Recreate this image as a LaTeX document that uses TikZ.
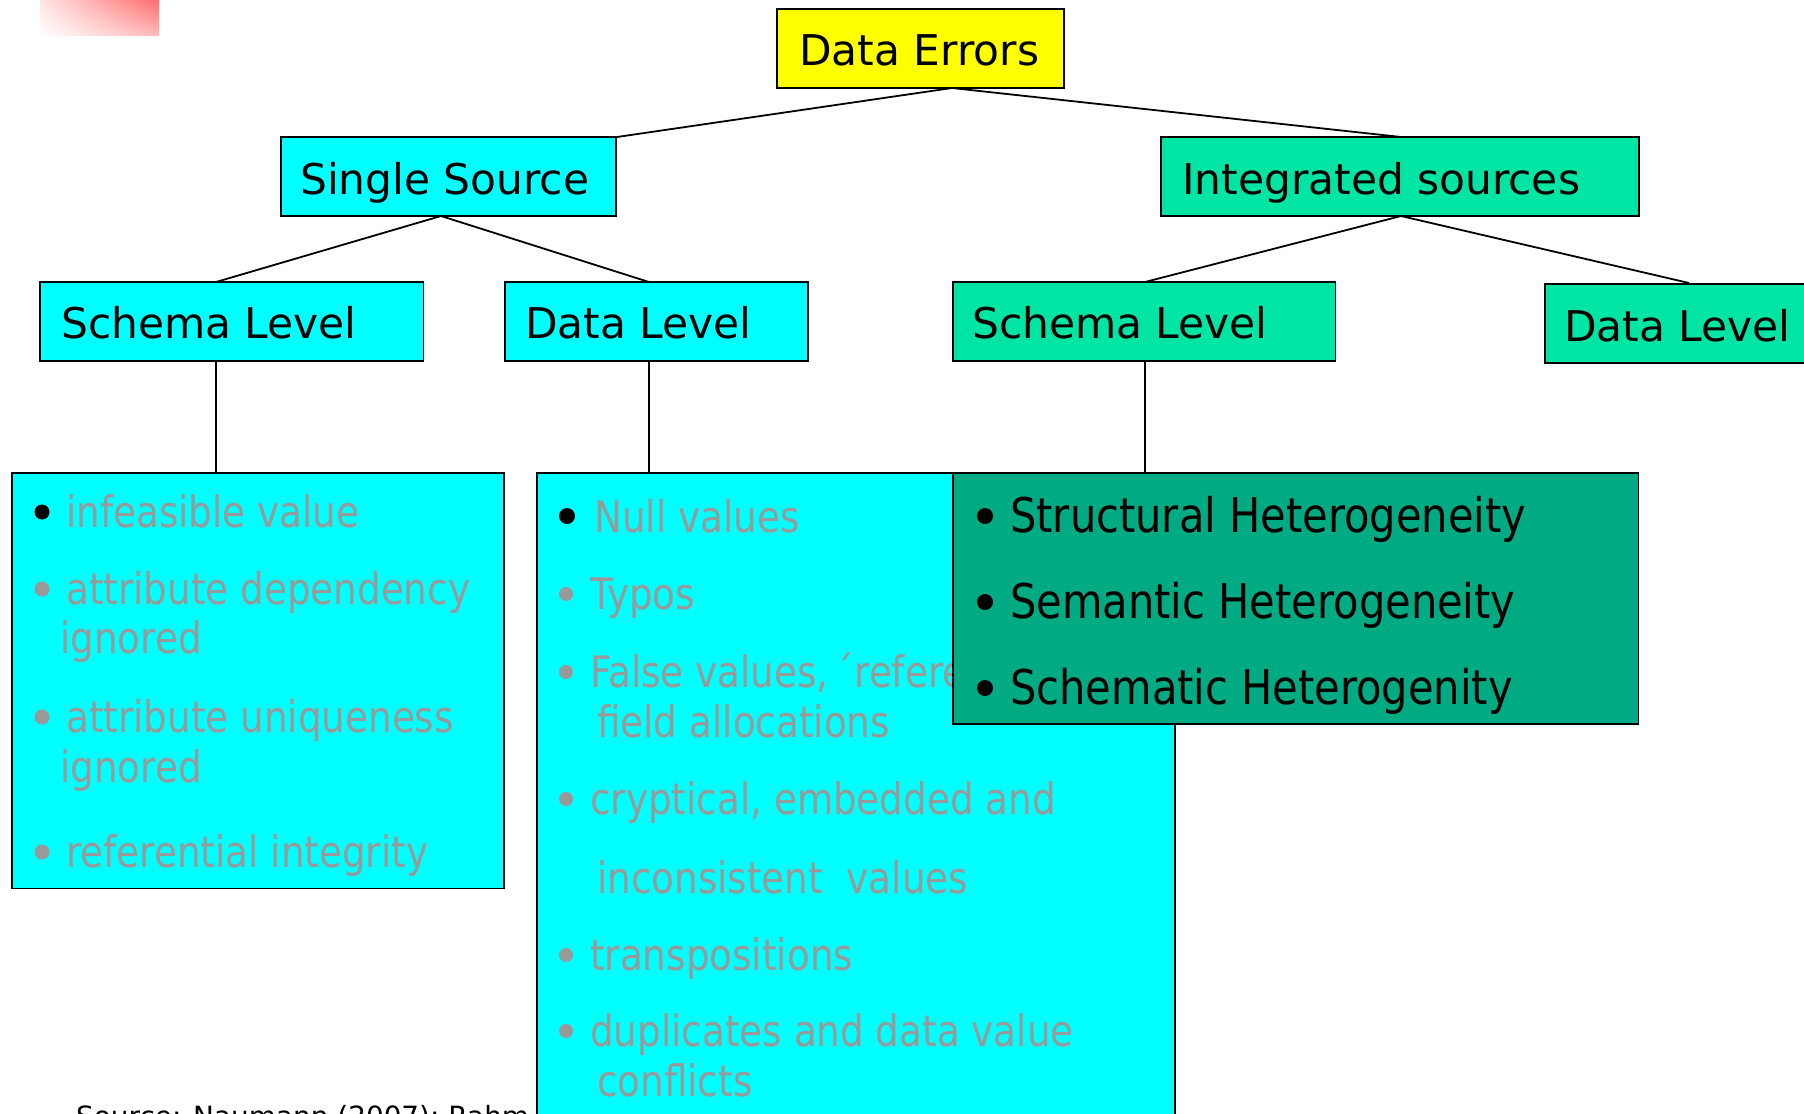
\documentclass[tikz,border=0pt]{standalone}
\usepackage{fontspec}
\usetikzlibrary{shadings}
\setmainfont{DejaVu Sans}
\newfontfamily\listfont[FakeStretch=0.86]{DejaVu Sans}
\newfontfamily\hetfont[FakeStretch=0.87]{DejaVu Sans}

\definecolor{errfill}{RGB}{255,255,0}
\definecolor{singlefill}{RGB}{0,255,255}
\definecolor{integfill}{RGB}{0,228,164}
\definecolor{hetfill}{RGB}{0,170,130}
\definecolor{itemgray}{RGB}{153,153,153}
\definecolor{tabUL}{RGB}{255,228,228}
\definecolor{tabUR}{RGB}{255,108,108}
\definecolor{tabLR}{RGB}{255,185,185}

\tikzset{
  box/.style={draw=black, line width=1.8bp, inner sep=0pt, outer sep=0pt, anchor=north west},
  lbl/.style={inner sep=0pt, anchor=base west, font=\fontsize{42.5}{50}\selectfont},
  item/.style={inner sep=0pt, anchor=base west, text=itemgray, font=\listfont\fontsize{43.5}{50}\selectfont},
  het/.style={inner sep=0pt, anchor=base west, font=\hetfont\fontsize{48}{55}\selectfont},
  conn/.style={draw=black, line width=1.8bp},
  blackbullet/.style={fill=black},
  graybullet/.style={fill=itemgray},
}

\begin{document}
\begin{tikzpicture}[x=1bp, y=-1bp]
\useasboundingbox (0,0) rectangle (1804,1113);
\clip (0,0) rectangle (1804,1113);
\fill[white] (0,0) rectangle (1804,1113);

% decorative corner tab
\shade[upper left=tabUL, upper right=tabUR, lower left=white, lower right=tabLR]
  (40,0) rectangle (159,35);

% connector end points
\coordinate (apexErr) at (952,88);
\coordinate (apexSingle) at (441,216);
\coordinate (apexInteg) at (1401,216);
\coordinate (topSchemaL) at (216,282);
\coordinate (topDataM) at (649,282);
\coordinate (topSchemaR) at (1145,282);
\coordinate (topDataR) at (1689,283);
\coordinate (botSchemaL) at (216,361);
\coordinate (botDataM) at (649,361);
\coordinate (botSchemaR) at (1145,361);
\coordinate (topListL) at (216,473);
\coordinate (topListM) at (649,473);
\coordinate (topListR) at (1145,473);
\coordinate (cornerSingle) at (617,137);
\coordinate (topInteg) at (1401,137);

% tree connectors
\draw[conn] (apexErr) -- (cornerSingle);
\draw[conn] (apexErr) -- (topInteg);
\draw[conn] (apexSingle) -- (topSchemaL);
\draw[conn] (apexSingle) -- (topDataM);
\draw[conn] (apexInteg) -- (topSchemaR);
\draw[conn] (apexInteg) -- (topDataR);
\draw[conn] (botSchemaL) -- (topListL);
\draw[conn] (botDataM) -- (topListM);
\draw[conn] (botSchemaR) -- (topListR);

% source line (partly hidden behind the data level list)
\node[inner sep=0pt, anchor=base west, font=\fontsize{28}{34}\selectfont] (src)
  at (76,1126) {Source: Naumann (2007); Rahm and Do (2000)};

% category boxes
\node[box, fill=errfill, minimum width=288, minimum height=79] (err) at (777,9) {};
\node[box, fill=singlefill, minimum width=336, minimum height=79] (single) at (281,137) {};
\node[box, fill=integfill, minimum width=480, minimum height=79] (integ) at (1161,137) {};
\node[box, fill=singlefill, minimum width=385, minimum height=79] (schemaL) at (40,282) {};
\node[box, fill=singlefill, minimum width=304, minimum height=79] (dataM) at (505,282) {};
\node[box, fill=integfill, minimum width=384, minimum height=79] (schemaR) at (953,282) {};
\node[box, fill=integfill, minimum width=290, minimum height=79] (dataR) at (1545,284) {};

\node[lbl] (errT) at (799,65) {Data Errors};
\node[lbl] (singleT) at (300,194) {Single Source};
\node[lbl] (integT) at (1182,194) {Integrated sources};
\node[lbl] (schemaLT) at (61,338) {Schema Level};
\node[lbl] (dataMT) at (525,338) {Data Level};
\node[lbl] (schemaRT) at (972,338) {Schema Level};
\node[lbl] (dataRT) at (1564,341) {Data Level};

% single source, schema level list
\node[box, fill=singlefill, minimum width=494, minimum height=417] (listL) at (12,473) {};
\fill[blackbullet] (42,512) circle (7.5);
\node[item] (l1) at (66,527) {infeasible value};
\fill[graybullet] (42,589) circle (7.5);
\node[item] (l2) at (66,604) {attribute dependency};
\node[item] (l2b) at (60,653) {ignored};
\fill[graybullet] (42,717) circle (7.5);
\node[item] (l3) at (66,732) {attribute uniqueness};
\node[item] (l3b) at (60,782) {ignored};
\fill[graybullet] (42,852) circle (7.5);
\node[item] (l4) at (66,867) {referential integrity};

% single source, data level list
\node[box, fill=singlefill, minimum width=640, minimum height=700] (listM) at (537,473) {};
\fill[blackbullet] (567,516) circle (8);
\node[item] (m1) at (594,532) {Null values};
\fill[graybullet] (566,594) circle (7);
\node[item] (m2) at (590,609) {Typos};
\fill[graybullet] (566,672) circle (7);
\node[item] (m3) at (590,687) {False values,\,´referential};
\node[item] (m3b) at (597,737) {field allocations};
\fill[graybullet] (566,799) circle (7);
\node[item] (m4) at (590,814) {cryptical, embedded and};
\node[item] (m4b) at (597,893) {inconsistent\ \ values};
\fill[graybullet] (566,955) circle (7);
\node[item] (m5) at (590,970) {transpositions};
\fill[graybullet] (566,1031) circle (7);
\node[item] (m6) at (590,1046) {duplicates and data value};
\node[item] (m6b) at (597,1096) {conflicts};

% integrated sources, schema level list
\node[box, fill=hetfill, minimum width=688, minimum height=252] (listR) at (953,473) {};
\fill[blackbullet] (985,516) circle (8);
\node[het] (r1) at (1010,532) {Structural Heterogeneity};
\fill[blackbullet] (985,602) circle (8);
\node[het] (r2) at (1010,618) {Semantic Heterogeneity};
\fill[blackbullet] (985,688) circle (8);
\node[het] (r3) at (1010,704) {Schematic Heterogenity};
\end{tikzpicture}
\end{document}
